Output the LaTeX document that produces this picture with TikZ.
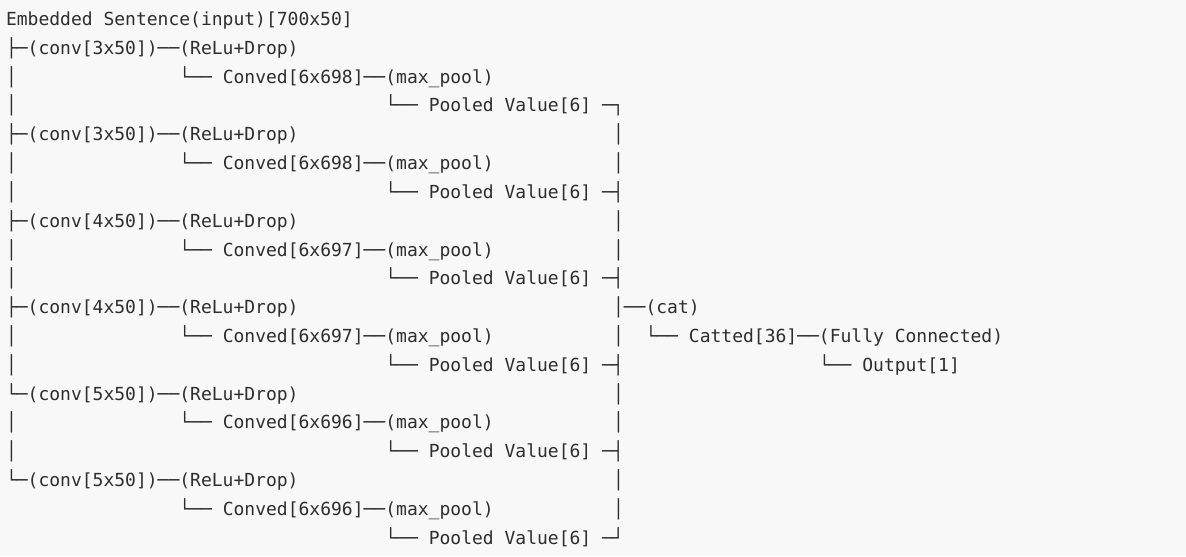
\documentclass[tikz,border=0pt]{standalone}
\usepackage{fontspec}
\newfontfamily\monofont{DejaVu Sans Mono}
\definecolor{bg}{HTML}{F8F8F8}
\definecolor{ink}{HTML}{2E2E2E}
\newcommand\tx[4]{\node[txt] (#1) at ({6+#3*10.84},{25.5+#2*28.82}) {#4};}
\begin{document}
\begin{tikzpicture}[x=0.5pt,y=-0.5pt,
  txt/.style={anchor=base west,inner sep=0pt,outer sep=0pt,text=ink,font=\monofont\fontsize{9}{10}\selectfont}]
\fill[bg] (0,0) rectangle (1186,556);
\useasboundingbox (0,0) rectangle (1186,556);
% row 0
\tx{r0}{0}{0}{Embedded Sentence(input)[700x50]}
% block 1
\tx{r1}{1}{0}{├─(conv[3x50])──(ReLu+Drop)}
\tx{r2a}{2}{0}{│}
\tx{r2b}{2}{16}{└── Conved[6x698]──(max\_pool)}
\tx{r3a}{3}{0}{│}
\tx{r3b}{3}{35}{└── Pooled Value[6] ─┐}
% block 2
\tx{r4a}{4}{0}{├─(conv[3x50])──(ReLu+Drop)}
\tx{r4b}{4}{56}{│}
\tx{r5a}{5}{0}{│}
\tx{r5b}{5}{16}{└── Conved[6x698]──(max\_pool)}
\tx{r5c}{5}{56}{│}
\tx{r6a}{6}{0}{│}
\tx{r6b}{6}{35}{└── Pooled Value[6] ─┤}
% block 3
\tx{r7a}{7}{0}{├─(conv[4x50])──(ReLu+Drop)}
\tx{r7b}{7}{56}{│}
\tx{r8a}{8}{0}{│}
\tx{r8b}{8}{16}{└── Conved[6x697]──(max\_pool)}
\tx{r8c}{8}{56}{│}
\tx{r9a}{9}{0}{│}
\tx{r9b}{9}{35}{└── Pooled Value[6] ─┤}
% block 4
\tx{r10a}{10}{0}{├─(conv[4x50])──(ReLu+Drop)}
\tx{r10b}{10}{56}{│──(cat)}
\tx{r11a}{11}{0}{│}
\tx{r11b}{11}{16}{└── Conved[6x697]──(max\_pool)}
\tx{r11c}{11}{56}{│}
\tx{r11d}{11}{59}{└── Catted[36]──(Fully Connected)}
\tx{r12a}{12}{0}{│}
\tx{r12b}{12}{35}{└── Pooled Value[6] ─┤}
\tx{r12c}{12}{75}{└── Output[1]}
% block 5
\tx{r13a}{13}{0}{└─(conv[5x50])──(ReLu+Drop)}
\tx{r13b}{13}{56}{│}
\tx{r14a}{14}{0}{│}
\tx{r14b}{14}{16}{└── Conved[6x696]──(max\_pool)}
\tx{r14c}{14}{56}{│}
\tx{r15a}{15}{0}{│}
\tx{r15b}{15}{35}{└── Pooled Value[6] ─┤}
% block 6
\tx{r16a}{16}{0}{└─(conv[5x50])──(ReLu+Drop)}
\tx{r16b}{16}{56}{│}
\tx{r17b}{17}{16}{└── Conved[6x696]──(max\_pool)}
\tx{r17c}{17}{56}{│}
\tx{r18b}{18}{35}{└── Pooled Value[6] ─┘}
\end{tikzpicture}
\end{document}
